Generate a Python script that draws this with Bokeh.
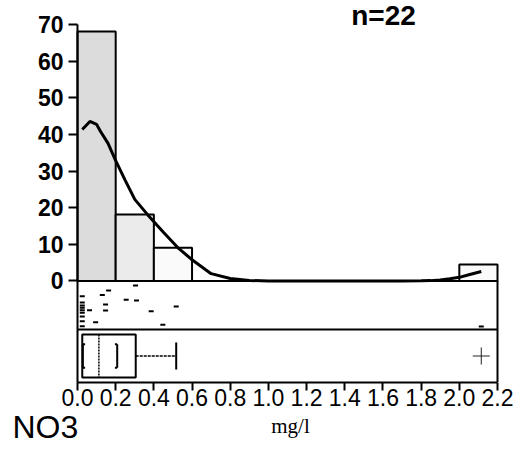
from bokeh.plotting import figure
from bokeh.models import (Range1d, FixedTicker, PrintfTickFormatter, LinearAxis,
                          ColumnDataSource)
from bokeh.core.properties import value
from bokeh.embed import file_html
from bokeh.resources import INLINE

# ---- data ----
# histogram (percent of n=22 samples), bin edges in mg/l
bar_left = [0.0, 0.2, 0.4, 2.0]
bar_right = [0.2, 0.4, 0.6, 2.2]
bar_pct = [68.2, 18.2, 9.1, 4.5]
bar_fill = ["#dcdcdc", "#ebebeb", "#fafafa", "#fafafa"]

# density curve (scaled to percent)
dens_x = [0.025, 0.065, 0.10, 0.12, 0.16, 0.20, 0.25, 0.30, 0.366, 0.45, 0.53, 0.60,
          0.70, 0.80, 0.90, 1.00, 1.20, 1.40, 1.60, 1.70, 1.80, 1.85, 1.90, 1.95,
          2.00, 2.05, 2.115]
dens_y = [41.4, 43.6, 42.8, 40.9, 37.6, 32.9, 27.5, 22.3, 18.2, 13.3, 8.9, 5.8,
          2.0, 0.7, 0.15, 0.0, 0.0, 0.0, 0.0, 0.0, 0.05, 0.1, 0.3, 0.6,
          1.0, 1.7, 2.6]

# individual observations (rug) and their vertical jitter
rug_x = [0.025, 0.025, 0.025, 0.025, 0.025, 0.025, 0.025, 0.025, 0.025,
         0.063, 0.095, 0.13, 0.147, 0.147, 0.163,
         0.255, 0.304, 0.309, 0.386, 0.447, 0.517, 2.115]
rug_y = [-4.15, -5.87, -6.69, -7.32, -7.98, -8.69, -9.70, -10.98, -12.35,
         -7.98, -11.26, -3.83, -6.42, -8.06, -2.60,
         -5.14, -1.23, -5.33, -8.25, -11.97, -6.97, -12.43]

# box plot statistics
q1, med, q3 = 0.025, 0.112, 0.305
ci_low, ci_high = 0.028, 0.208
whisk_hi = 0.517
outliers = [2.115]

x_ticks = [0.0, 0.2, 0.4, 0.6, 0.8, 1.0, 1.2, 1.4, 1.6, 1.8, 2.0, 2.2]
y_ticks = [0, 10, 20, 30, 40, 50, 60, 70]

n_label = "n=22"
var_name = "NO3"
unit_label = "mg/l"

# ---- layout constants ----
X_MIN, X_MAX = 0.0, 2.2
Y_MAX = 70
Y_MIN = -27.6          # bottom of the box panel
RUG_BOTTOM = -13.25
BOX_C = -20.5
BOX_H = 5.9
CI_H = 3.2
CAP_H = 3.7

W, H = 513, 448
AX_LEFT, AX_RIGHT = 77.0, 497.0      # pixel columns of x = 0 and x = 2.2
AX_TOP, AX_BOTTOM = 24.3, 381.5      # pixel rows of y = 70 and y = Y_MIN
PX_X = (AX_RIGHT - AX_LEFT) / (X_MAX - X_MIN)
PX_Y = (AX_BOTTOM - AX_TOP) / (Y_MAX - Y_MIN)

x_lo = X_MIN - AX_LEFT / PX_X
x_hi = X_MAX + (W - AX_RIGHT) / PX_X
y_hi = Y_MAX + AX_TOP / PX_Y
y_lo = Y_MIN - (H - AX_BOTTOM) / PX_Y


def px_to_x(px):
    return X_MIN + (px - AX_LEFT) / PX_X


def py_to_y(py):
    return Y_MAX - (py - AX_TOP) / PX_Y


NARROW = "Liberation Sans Narrow, Liberation Sans, Arial, sans-serif"

p = figure(width=W, height=H, output_backend="svg", toolbar_location=None,
           x_range=Range1d(x_lo, x_hi), y_range=Range1d(y_lo, y_hi),
           x_axis_type=None, y_axis_type=None,
           min_border_left=0, min_border_right=0, min_border_top=0,
           min_border_bottom=0)
p.outline_line_color = None
p.background_fill_color = "white"
p.border_fill_color = "white"

# axes drawn at fixed data locations
yaxis = LinearAxis(fixed_location=X_MIN, bounds=(Y_MIN, Y_MAX),
                   ticker=FixedTicker(ticks=y_ticks))
xaxis = LinearAxis(fixed_location=Y_MIN, bounds=(X_MIN, X_MAX),
                   ticker=FixedTicker(ticks=x_ticks),
                   formatter=PrintfTickFormatter(format="%.1f"))
for ax in (xaxis, yaxis):
    ax.axis_line_width = 2
    ax.axis_line_color = "black"
    ax.major_tick_line_width = 2
    ax.major_tick_line_color = "black"
    ax.minor_tick_line_color = None
    ax.major_tick_in = 0
    ax.major_label_text_font = NARROW
    ax.major_label_text_font_size = "23px"
    ax.major_label_text_color = "black"
yaxis.major_tick_out = 9
yaxis.major_label_standoff = 5
yaxis.major_label_text_font_style = "bold"
xaxis.major_tick_out = 8
xaxis.major_label_standoff = -1
p.add_layout(yaxis, "left")
p.add_layout(xaxis, "below")

# histogram
src = ColumnDataSource(dict(left=bar_left, right=bar_right, top=bar_pct,
                            bottom=[0] * len(bar_pct), fill=bar_fill))
p.quad(left="left", right="right", top="top", bottom="bottom", source=src,
       fill_color="fill", line_color="black", line_width=2)

# density curve
p.line(dens_x, dens_y, line_color="black", line_width=3)

# panel separators and right border of the lower panels
p.segment(x0=[X_MIN, X_MIN, X_MAX], y0=[0, RUG_BOTTOM, 0],
          x1=[X_MAX, X_MAX, X_MAX], y1=[0, RUG_BOTTOM, Y_MIN],
          line_color="black", line_width=2)

# rug
p.scatter(rug_x, rug_y, marker="dash", size=5, line_color="black", line_width=2)

# box plot
p.quad(left=[q1], right=[q3], top=[BOX_C + BOX_H], bottom=[BOX_C - BOX_H],
       fill_color=None, line_color="black", line_width=2)
p.segment(x0=[med], y0=[BOX_C + BOX_H], x1=[med], y1=[BOX_C - BOX_H],
          line_color="black", line_width=1.5, line_dash="2 1")
# confidence brackets
p.segment(x0=[ci_low, ci_high], y0=[BOX_C + CI_H] * 2, x1=[ci_low, ci_high],
          y1=[BOX_C - CI_H] * 2, line_color="black", line_width=2)
p.segment(x0=[ci_low, ci_low, ci_high, ci_high],
          y0=[BOX_C + CI_H, BOX_C - CI_H, BOX_C + CI_H, BOX_C - CI_H],
          x1=[ci_low + 0.012, ci_low + 0.012, ci_high - 0.012, ci_high - 0.012],
          y1=[BOX_C + CI_H, BOX_C - CI_H, BOX_C + CI_H, BOX_C - CI_H],
          line_color="black", line_width=2)
# whisker and cap
p.segment(x0=[q3], y0=[BOX_C], x1=[whisk_hi], y1=[BOX_C],
          line_color="black", line_width=1.5, line_dash="3 1")
p.segment(x0=[whisk_hi], y0=[BOX_C + CAP_H], x1=[whisk_hi], y1=[BOX_C - CAP_H],
          line_color="black", line_width=2)
# outliers
p.scatter(outliers, [BOX_C] * len(outliers), marker="cross", size=17,
          line_color="#222222", line_width=1)

# texts (anchor rows chosen so the glyphs land where they are in the reference)
p.text(x=[px_to_x(383)], y=[py_to_y(15)], text=[n_label],
       text_font=value(NARROW), text_font_style="bold", text_font_size="28px",
       text_align="center", text_baseline="alphabetic", text_color="black")
p.text(x=[px_to_x(12)], y=[py_to_y(426)], text=[var_name],
       text_font=value(NARROW), text_font_size="32px",
       text_align="left", text_baseline="alphabetic", text_color="black")
p.text(x=[px_to_x(290)], y=[py_to_y(425)], text=[unit_label],
       text_font=value("Liberation Serif"), text_font_size="21px",
       text_align="center", text_baseline="alphabetic", text_color="black")

open("out.html", "w").write(file_html(p, INLINE))
